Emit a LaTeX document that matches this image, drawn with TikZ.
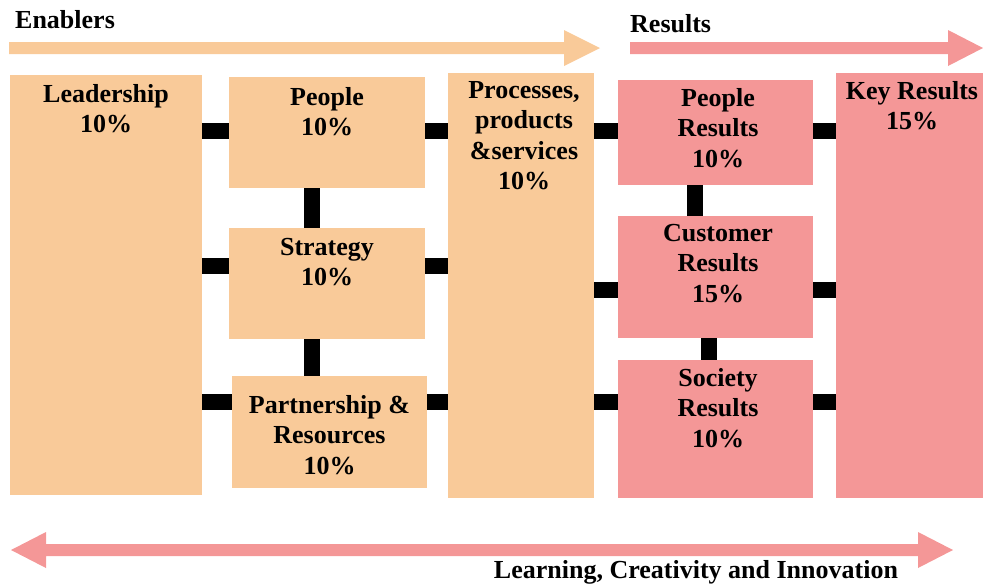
\documentclass[tikz,border=0pt]{standalone}
\usepackage{fontspec}
\setmainfont{Liberation Serif}
\definecolor{peach}{RGB}{249,202,153}
\definecolor{rose}{RGB}{244,151,151}
\begin{document}
\begin{tikzpicture}[x=1pt,y=-1pt,
  box/.style={rectangle,inner sep=0pt,draw=none},
  ebox/.style={box,fill=peach},
  rbox/.style={box,fill=rose},
  lbl/.style={inner sep=0pt,anchor=north,align=center,font=\fontsize{26}{30.5}\selectfont\bfseries},
  ttl/.style={inner sep=0pt,font=\fontsize{26}{30}\selectfont\bfseries},
  bar/.style={line width=15.5pt,black}]
\useasboundingbox (0,0) rectangle (983,587);
% boxes
\path (10,75) rectangle (202,495) node[ebox,pos=.5,minimum width=192pt,minimum height=420pt] (lead) {};
\node[ebox,minimum width=196pt,minimum height=111pt] (peop) at (327,132.5) {};
\node[ebox,minimum width=196pt,minimum height=111pt] (strat) at (327,283.5) {};
\node[ebox,minimum width=195pt,minimum height=112pt] (part) at (329.5,432) {};
\node[ebox,minimum width=146pt,minimum height=425pt] (proc) at (521,285.5) {};
\node[rbox,minimum width=195pt,minimum height=105pt] (pres) at (715.5,132.5) {};
\node[rbox,minimum width=195pt,minimum height=122pt] (cres) at (715.5,277) {};
\node[rbox,minimum width=195pt,minimum height=138pt] (sres) at (715.5,429) {};
\node[rbox,minimum width=147pt,minimum height=425pt] (kres) at (909.5,285.5) {};
% labels
\node[lbl] (leadT) at (106,84) {Leadership\\10\%};
\node[lbl] (peopT) at (327,87) {People\\10\%};
\node[lbl] (stratT) at (327,238) {Strategy\\10\%};
\node[lbl] (partT) at (329.5,395) {Partnership \&\\Resources\\10\%};
\node[lbl] (procT) at (524,81) {Processes,\\products\\\&services\\10\%};
\node[lbl] (presT) at (718,88) {People\\Results\\10\%};
\node[lbl] (cresT) at (718,224) {Customer\\Results\\15\%};
\node[lbl] (sresT) at (718,368) {Society\\Results\\10\%};
\node[lbl] (kresT) at (912,81) {Key Results\\15\%};
% connectors
\draw[bar] (lead.east |- 0,131) -- (peop.west |- 0,131);
\draw[bar] (lead.east |- 0,266) -- (strat.west |- 0,266);
\draw[bar] (lead.east |- 0,402) -- (part.west |- 0,402);
\draw[bar] (peop.east |- 0,131) -- (proc.west |- 0,131);
\draw[bar] (strat.east |- 0,266) -- (proc.west |- 0,266);
\draw[bar] (part.east |- 0,402) -- (proc.west |- 0,402);
\draw[bar] (peop.south -| 312,0) -- (strat.north -| 312,0);
\draw[bar] (strat.south -| 312,0) -- (part.north -| 312,0);
\draw[bar] (proc.east |- 0,131) -- (pres.west |- 0,131);
\draw[bar] (proc.east |- 0,290) -- (cres.west |- 0,290);
\draw[bar] (proc.east |- 0,402) -- (sres.west |- 0,402);
\draw[bar] (pres.south -| 695,0) -- (cres.north -| 695,0);
\draw[bar] (cres.south -| 709,0) -- (sres.north -| 709,0);
\draw[bar] (pres.east |- 0,131) -- (kres.west |- 0,131);
\draw[bar] (cres.east |- 0,290) -- (kres.west |- 0,290);
\draw[bar] (sres.east |- 0,402) -- (kres.west |- 0,402);
% big arrows
\fill[peach] (9,42) -- (564,42) -- (564,30) -- (600,48) -- (564,66) -- (564,54) -- (9,54) -- cycle;
\fill[rose] (630,42) -- (948,42) -- (948,30) -- (983,48) -- (948,66) -- (948,54) -- (630,54) -- cycle;
\fill[rose] (11,550) -- (46,532) -- (46,544) -- (918,544) -- (918,532) -- (953,550) -- (918,568) -- (918,556) -- (46,556) -- (46,568) -- cycle;
% titles
\node[ttl,anchor=west] (enab) at (15,20) {Enablers};
\node[ttl,anchor=west] (resl) at (630,24) {Results};
\node[ttl] (lci) at (696,572) {Learning, Creativity and Innovation};
\end{tikzpicture}
\end{document}
